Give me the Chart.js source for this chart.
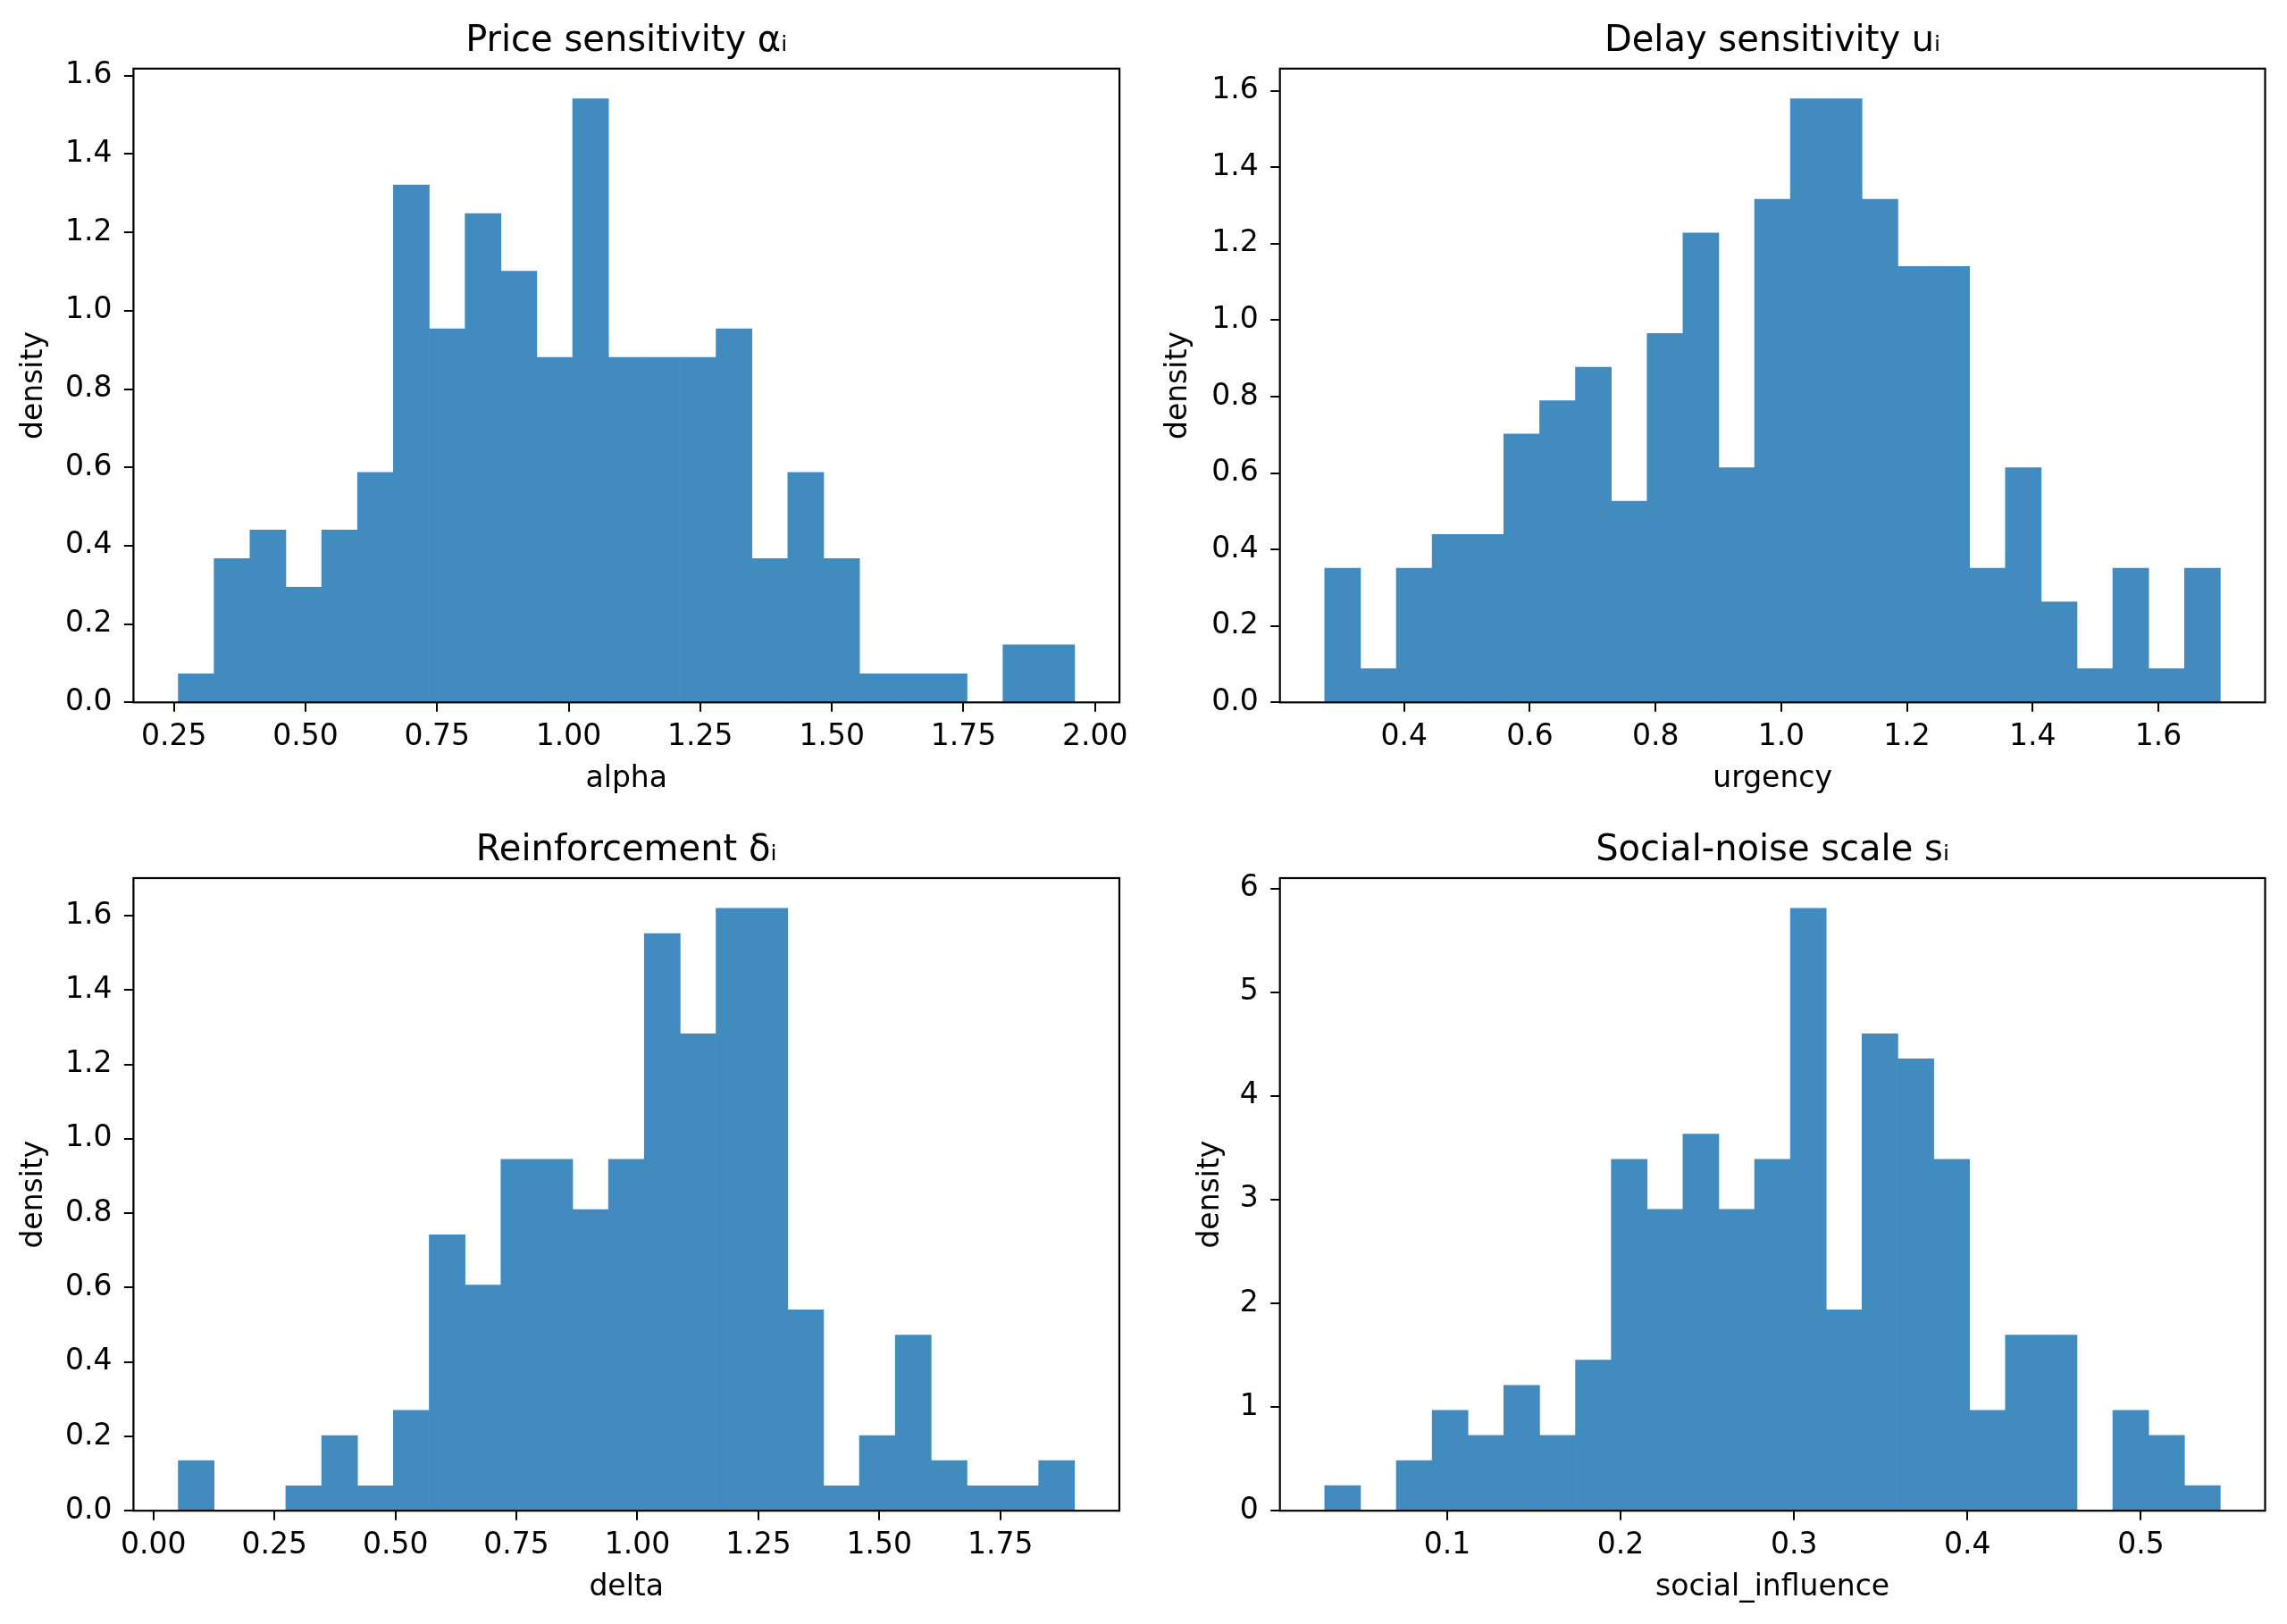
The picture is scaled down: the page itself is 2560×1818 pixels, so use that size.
<!DOCTYPE html>
<html>
<head>
<meta charset="utf-8">
<script src="https://cdn.jsdelivr.net/npm/chart.js@4.4.1/dist/chart.umd.min.js"></script>
<style>
html,body{margin:0;padding:0;background:#fff;overflow:hidden;}
#wrap{position:relative;width:2560px;height:1818px;background:#fff;}
canvas{position:absolute;}
</style>
</head>
<body>
<div id="wrap">
<canvas id="c1" width="1280" height="909" style="left:0px;top:0px;width:1280px;height:909px"></canvas>
<canvas id="c2" width="1280" height="909" style="left:1280px;top:0px;width:1280px;height:909px"></canvas>
<canvas id="c3" width="1280" height="909" style="left:0px;top:909px;width:1280px;height:909px"></canvas>
<canvas id="c4" width="1280" height="909" style="left:1280px;top:909px;width:1280px;height:909px"></canvas>
</div>
<script>
// ---------------- DATA ----------------
// Bin edges (25 bins each) and densities
const alphaEdges = [0.2583, 0.3264, 0.3945, 0.4627, 0.5308, 0.5989, 0.6670, 0.7351, 0.8033, 0.8714,
  0.9395, 1.0076, 1.0757, 1.1439, 1.2120, 1.2801, 1.3482, 1.4163, 1.4845, 1.5526,
  1.6207, 1.6888, 1.7569, 1.8251, 1.8932, 1.9613];
const alphaDensity = [0.073, 0.367, 0.440, 0.294, 0.440, 0.587, 1.321, 0.954, 1.248, 1.101,
  0.881, 1.541, 0.881, 0.881, 0.881, 0.954, 0.367, 0.587, 0.367, 0.073,
  0.073, 0.073, 0, 0.147, 0.147];

const urgencyEdges = [0.2736, 0.3306, 0.3876, 0.4446, 0.5016, 0.5586, 0.6156, 0.6726, 0.7296, 0.7866,
  0.8436, 0.9006, 0.9576, 1.0146, 1.0716, 1.1286, 1.1856, 1.2426, 1.2996, 1.3566,
  1.4136, 1.4706, 1.5276, 1.5846, 1.6416, 1.6986];
const urgencyDensity = [0.351, 0.088, 0.351, 0.439, 0.439, 0.702, 0.789, 0.877, 0.526, 0.965,
  1.228, 0.614, 1.316, 1.579, 1.579, 1.316, 1.140, 1.140, 0.351, 0.614,
  0.263, 0.088, 0.351, 0.088, 0.351];

const deltaEdges = [0.0513, 0.1254, 0.1995, 0.2735, 0.3476, 0.4217, 0.4958, 0.5699, 0.6439, 0.7180,
  0.7921, 0.8662, 0.9403, 1.0143, 1.0884, 1.1625, 1.2366, 1.3107, 1.3847, 1.4588,
  1.5329, 1.6070, 1.6811, 1.7551, 1.8292, 1.9033];
const deltaDensity = [0.135, 0, 0, 0.067, 0.202, 0.067, 0.270, 0.742, 0.607, 0.945,
  0.945, 0.810, 0.945, 1.552, 1.282, 1.620, 1.620, 0.540, 0.067, 0.202,
  0.472, 0.135, 0.067, 0.067, 0.135];

const socialEdges = [0.0294, 0.0501, 0.0707, 0.0914, 0.1120, 0.1327, 0.1533, 0.1740, 0.1947, 0.2153,
  0.2360, 0.2566, 0.2773, 0.2979, 0.3186, 0.3392, 0.3599, 0.3806, 0.4012, 0.4219,
  0.4425, 0.4632, 0.4838, 0.5045, 0.5251, 0.5458];
const socialDensity = [0.242, 0, 0.484, 0.968, 0.726, 1.210, 0.726, 1.452, 3.389, 2.905,
  3.631, 2.905, 3.389, 5.809, 1.937, 4.599, 4.357, 3.389, 0.968, 1.694,
  1.694, 0, 0.968, 0.726, 0.242];

// Tick labels
const alphaTicksX = ['0.25', '0.50', '0.75', '1.00', '1.25', '1.50', '1.75', '2.00'];
const urgencyTicksX = ['0.4', '0.6', '0.8', '1.0', '1.2', '1.4', '1.6'];
const deltaTicksX = ['0.00', '0.25', '0.50', '0.75', '1.00', '1.25', '1.50', '1.75'];
const socialTicksX = ['0.1', '0.2', '0.3', '0.4', '0.5'];
const densityTicksY = ['0.0', '0.2', '0.4', '0.6', '0.8', '1.0', '1.2', '1.4', '1.6'];
const socialTicksY = ['0', '1', '2', '3', '4', '5', '6'];

// Titles and axis labels
const titles = ['Price sensitivity αᵢ', 'Delay sensitivity uᵢ', 'Reinforcement δᵢ', 'Social-noise scale sᵢ'];
const xLabels = ['alpha', 'urgency', 'delta', 'social_influence'];
const yLabel = 'density';

// ---------------- STYLE / LAYOUT ----------------
const FONT = "'DejaVu Sans', sans-serif";
const BAR = '#418bbf';
const CW = 1280, CH = 909;
const layouts = [
  {L: 149.4, T: 76.8, R: 1253.1, B: 786.3, yTitleX: 38.5},
  {L: 152.7, T: 76.8, R: 1255.5, B: 786.3, yTitleX: 39.9},
  {L: 149.4, T: 74.0, R: 1253.0, B: 782.2, yTitleX: 38.5},
  {L: 152.7, T: 74.0, R: 1255.5, B: 782.2, yTitleX: 75.0}
];

const framePlugin = {
  id: 'frame',
  afterLayout(chart) {
    const a = chart.chartArea, tb = chart.titleBlock;
    if (tb) { tb.left = a.left; tb.right = a.right; tb.width = a.right - a.left; }
  },
  afterDatasetsDraw(chart) {
    const a = chart.chartArea, ctx = chart.ctx;
    ctx.save();
    ctx.strokeStyle = '#000';
    ctx.lineWidth = 2.2;
    ctx.strokeRect(a.left, a.top, a.right - a.left, a.bottom - a.top);
    ctx.restore();
  }
};

function makeHist(id, edges, dens, xTicks, yTicks, title, xLabel, lay) {
  const pts = dens.map((d, i) => ({x: (edges[i] + edges[i + 1]) / 2, y: d}));
  const lo = edges[0], hi = edges[edges.length - 1], span = hi - lo;
  const ymax = Math.max(...dens) * 1.05;
  const tickFont = {family: FONT, size: 33};
  new Chart(document.getElementById(id), {
    type: 'bar',
    data: {datasets: [{data: pts, backgroundColor: BAR, borderWidth: 0,
      barPercentage: 1, categoryPercentage: 1}]},
    plugins: [framePlugin],
    options: {
      responsive: false, animation: false, devicePixelRatio: 1,
      layout: {padding: {left: 0, top: 0, right: CW - lay.R, bottom: 0}},
      plugins: {
        legend: {display: false},
        tooltip: {enabled: false},
        title: {display: true, text: title, color: '#000',
          font: {family: FONT, size: 40, weight: 'normal'},
          padding: {top: lay.T - 54, bottom: 6}}
      },
      scales: {
        x: {
          type: 'linear', min: lo - 0.05 * span, max: hi + 0.05 * span, offset: false,
          afterBuildTicks: s => { s.ticks = xTicks.map(t => ({value: parseFloat(t)})); },
          afterFit: s => { s.height = CH - lay.B; },
          ticks: {autoSkip: false, maxRotation: 0, minRotation: 0, color: '#000', font: tickFont,
            padding: 8.9, callback: (v, i) => xTicks[i]},
          grid: {display: true, offset: false, drawOnChartArea: false, drawTicks: true, tickLength: 10.5,
            color: '#000', lineWidth: 2},
          border: {display: false},
          title: {display: true, text: xLabel, color: '#000', font: tickFont,
            padding: {top: 0, bottom: CH - lay.B - 86.5 - 19.8}}
        },
        y: {
          type: 'linear', min: 0, max: ymax,
          afterBuildTicks: s => { s.ticks = yTicks.map(t => ({value: parseFloat(t)})); },
          afterFit: s => { s.width = lay.L; },
          ticks: {color: '#000', font: tickFont, padding: 13.5, callback: (v, i) => yTicks[i]},
          grid: {display: true, offset: false, drawOnChartArea: false, drawTicks: true, tickLength: 10.5,
            color: '#000', lineWidth: 2},
          border: {display: false},
          title: {display: true, text: yLabel, color: '#000', font: tickFont,
            padding: {top: lay.yTitleX - 19.8, bottom: 0}}
        }
      }
    }
  });
}

makeHist('c1', alphaEdges, alphaDensity, alphaTicksX, densityTicksY, titles[0], xLabels[0], layouts[0]);
makeHist('c2', urgencyEdges, urgencyDensity, urgencyTicksX, densityTicksY, titles[1], xLabels[1], layouts[1]);
makeHist('c3', deltaEdges, deltaDensity, deltaTicksX, densityTicksY, titles[2], xLabels[2], layouts[2]);
makeHist('c4', socialEdges, socialDensity, socialTicksX, socialTicksY, titles[3], xLabels[3], layouts[3]);
</script>
</body>
</html>
